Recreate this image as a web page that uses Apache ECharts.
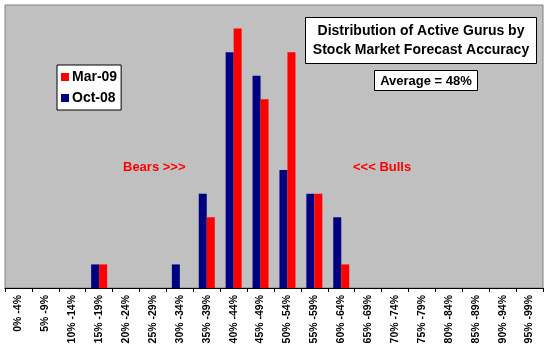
<!DOCTYPE html>
<html>
<head>
<meta charset="utf-8">
<script src="https://cdn.jsdelivr.net/npm/echarts@6/dist/echarts.min.js"></script>
<style>
html,body{margin:0;padding:0;background:#fff;}
#c{width:550px;height:350px;}
</style>
</head>
<body>
<div id="c"></div>
<script>
var categories = ["0% -4%","5% -9%","10% -14%","15% -19%","20% -24%","25% -29%","30% -34%","35% -39%","40% -44%","45% -49%","50% -54%","55% -59%","60% -64%","65% -69%","70% -74%","75% -79%","80% -84%","85% -89%","90% -94%","95% -99%"];
var oct08 = [0,0,0,1,0,0,1,4,10,9,5,4,3,0,0,0,0,0,0,0];
var mar09 = [0,0,0,1,0,0,0,3,11,8,10,4,1,0,0,0,0,0,0,0];
var titleText = "Distribution of Active Gurus by\nStock Market Forecast Accuracy";
var avgText = "Average = 48%";
var FONT = "Arial, 'Liberation Sans', sans-serif";

var chart = echarts.init(document.getElementById('c'));
chart.setOption({
  backgroundColor: '#ffffff',
  animation: false,
  grid: {
    left: 5, right: 7, top: 5, bottom: 62,
    show: true, backgroundColor: '#C0C0C0', borderColor: '#808080', borderWidth: 1
  },
  legend: {
    data: ['Mar-09', 'Oct-08'],
    orient: 'vertical',
    left: 57, top: 65,
    itemWidth: 8, itemHeight: 8, itemGap: 7,
    icon: 'rect',
    backgroundColor: '#ffffff', borderColor: '#000000', borderWidth: 1,
    padding: [5, 4, 5, 4],
    textStyle: { fontFamily: FONT, fontWeight: 'bold', fontSize: 14, color: '#000' , padding: [0,0,0,-2]}
  },
  xAxis: {
    type: 'category',
    data: categories,
    boundaryGap: true,
    axisLine: { lineStyle: { color: '#000', width: 1 } },
    axisTick: { show: true, length: 4, alignWithLabel: false, lineStyle: { color: '#000' } },
    axisLabel: { interval: 0, rotate: 90, margin: 7, fontFamily: FONT, fontWeight: 'bold', fontSize: 10.5, color: '#000' },
    splitLine: { show: false }
  },
  yAxis: {
    type: 'value', min: 0, max: 12, show: false, splitLine: { show: false }
  },
  series: [
    { name: 'Oct-08', type: 'bar', data: oct08, barWidth: 8, barGap: '0%', itemStyle: { color: '#000080' } },
    { name: 'Mar-09', type: 'bar', data: mar09, barWidth: 8, barGap: '0%', itemStyle: { color: '#FF0000' } }
  ],
  graphic: [
    { type: 'rect', shape: { x: 305.5, y: 17.5, width: 231, height: 46 }, style: { fill: '#fff', stroke: '#000', lineWidth: 1 }, z: 10 },
    { type: 'text', x: 421, y: 40.5, style: { text: titleText, fontFamily: FONT, fontWeight: 'bold', fontSize: 14, lineHeight: 19, fill: '#000', align: 'center', verticalAlign: 'middle' }, z: 11 },
    { type: 'rect', shape: { x: 374.5, y: 70.5, width: 103, height: 20 }, style: { fill: '#fff', stroke: '#000', lineWidth: 1 }, z: 10 },
    { type: 'text', x: 426, y: 81, style: { text: avgText, fontFamily: FONT, fontWeight: 'bold', fontSize: 13, fill: '#000', align: 'center', verticalAlign: 'middle' }, z: 11 },
    { type: 'text', x: 123, y: 167, style: { text: 'Bears >>>', fontFamily: FONT, fontWeight: 'bold', fontSize: 13, fill: '#FF0000', align: 'left', verticalAlign: 'middle' }, z: 11 },
    { type: 'text', x: 353, y: 167, style: { text: '<<< Bulls', fontFamily: FONT, fontWeight: 'bold', fontSize: 13, fill: '#FF0000', align: 'left', verticalAlign: 'middle' }, z: 11 }
  ]
});
</script>
</body>
</html>
